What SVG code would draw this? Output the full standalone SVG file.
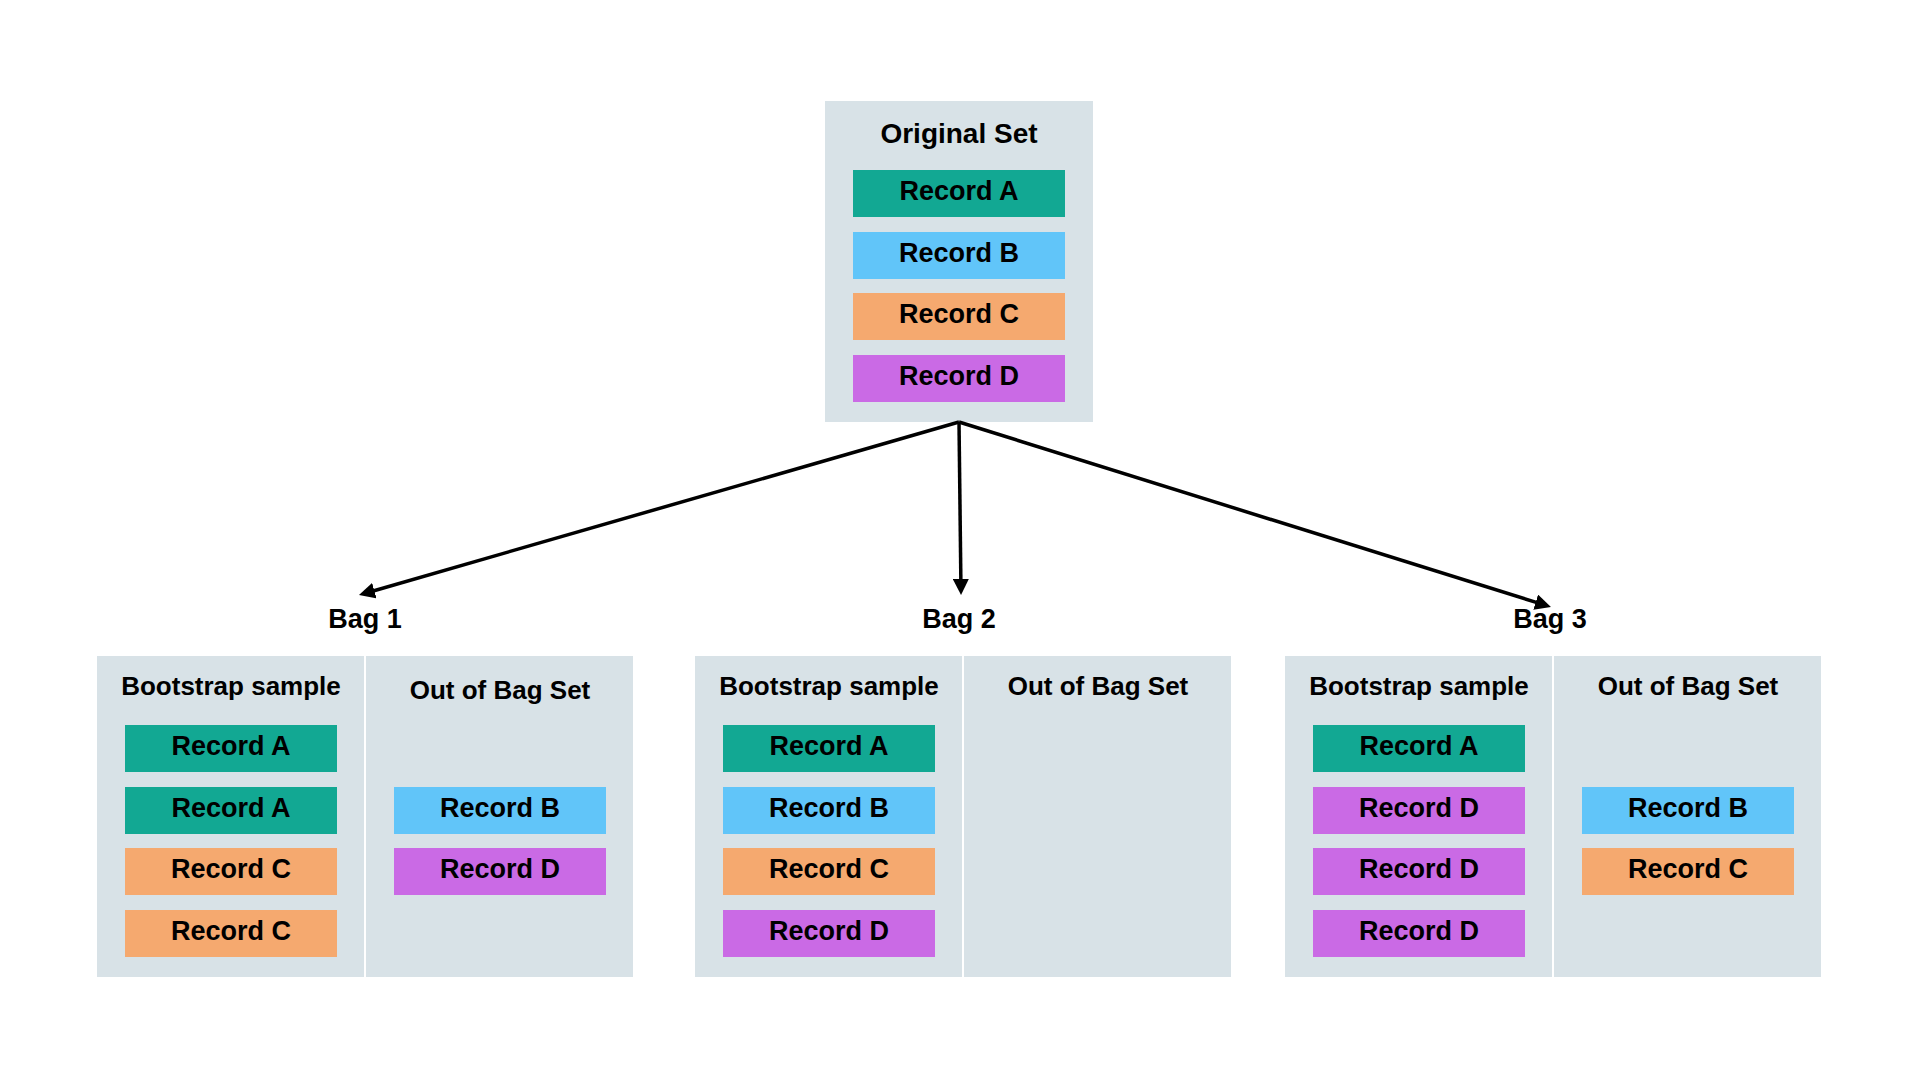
<svg xmlns="http://www.w3.org/2000/svg" width="1920" height="1080" viewBox="0 0 1920 1080">
  <style>
    text { font-family: "Liberation Sans", Arial, Helvetica, sans-serif; font-weight: bold; fill: #000; text-anchor: middle; }
    .panel { fill: #D8E2E7; }
    .title { font-size: 28px; }
    .coltitle { font-size: 26px; }
    .bag { font-size: 27px; }
    .rec { font-size: 27px; }
    .ra { fill: #12A893; }
    .rb { fill: #61C5F9; }
    .rc { fill: #F5A96F; }
    .rd { fill: #CA6AE5; }
    .conn { stroke: #000; stroke-width: 3.5; fill: none; }
  </style>
  <defs>
    <marker id="arrow" markerUnits="userSpaceOnUse" markerWidth="17" markerHeight="16" refX="4" refY="8" orient="auto">
      <path d="M0,0 L16,8 L0,16 z" fill="#000"/>
    </marker>
  </defs>
  <rect width="1920" height="1080" fill="#FFFFFF"/>

  <g id="original-set">
    <rect class="panel" x="825" y="101" width="268" height="321"/>
    <text class="title" x="959" y="143">Original Set</text>
    <rect class="ra" x="853" y="170" width="212" height="47"/>
    <text class="rec" x="959" y="200">Record A</text>
    <rect class="rb" x="853" y="232" width="212" height="47"/>
    <text class="rec" x="959" y="262">Record B</text>
    <rect class="rc" x="853" y="293" width="212" height="47"/>
    <text class="rec" x="959" y="323">Record C</text>
    <rect class="rd" x="853" y="355" width="212" height="47"/>
    <text class="rec" x="959" y="385">Record D</text>
  </g>

  <g id="connectors">
    <line class="conn" x1="959" y1="422" x2="370.5" y2="591.7" marker-end="url(#arrow)"/>
    <line class="conn" x1="959" y1="422" x2="960.9" y2="583" marker-end="url(#arrow)"/>
    <line class="conn" x1="959" y1="422" x2="1539.5" y2="603.4" marker-end="url(#arrow)"/>
  </g>

  <g id="bag1">
    <text class="bag" x="365" y="628">Bag 1</text>
    <rect class="panel" x="97" y="656" width="267" height="321"/>
    <rect class="panel" x="366" y="656" width="267" height="321"/>
    <text class="coltitle" x="231" y="695">Bootstrap sample</text>
    <text class="coltitle" x="500" y="699">Out of Bag Set</text>
    <rect class="ra" x="125" y="725" width="212" height="47"/>
    <text class="rec" x="231" y="755">Record A</text>
    <rect class="ra" x="125" y="787" width="212" height="47"/>
    <text class="rec" x="231" y="817">Record A</text>
    <rect class="rc" x="125" y="848" width="212" height="47"/>
    <text class="rec" x="231" y="878">Record C</text>
    <rect class="rc" x="125" y="910" width="212" height="47"/>
    <text class="rec" x="231" y="940">Record C</text>
    <rect class="rb" x="394" y="787" width="212" height="47"/>
    <text class="rec" x="500" y="817">Record B</text>
    <rect class="rd" x="394" y="848" width="212" height="47"/>
    <text class="rec" x="500" y="878">Record D</text>
  </g>

  <g id="bag2">
    <text class="bag" x="959" y="628">Bag 2</text>
    <rect class="panel" x="695" y="656" width="267" height="321"/>
    <rect class="panel" x="964" y="656" width="267" height="321"/>
    <text class="coltitle" x="829" y="695">Bootstrap sample</text>
    <text class="coltitle" x="1098" y="695">Out of Bag Set</text>
    <rect class="ra" x="723" y="725" width="212" height="47"/>
    <text class="rec" x="829" y="755">Record A</text>
    <rect class="rb" x="723" y="787" width="212" height="47"/>
    <text class="rec" x="829" y="817">Record B</text>
    <rect class="rc" x="723" y="848" width="212" height="47"/>
    <text class="rec" x="829" y="878">Record C</text>
    <rect class="rd" x="723" y="910" width="212" height="47"/>
    <text class="rec" x="829" y="940">Record D</text>
  </g>

  <g id="bag3">
    <text class="bag" x="1550" y="628">Bag 3</text>
    <rect class="panel" x="1285" y="656" width="267" height="321"/>
    <rect class="panel" x="1554" y="656" width="267" height="321"/>
    <text class="coltitle" x="1419" y="695">Bootstrap sample</text>
    <text class="coltitle" x="1688" y="695">Out of Bag Set</text>
    <rect class="ra" x="1313" y="725" width="212" height="47"/>
    <text class="rec" x="1419" y="755">Record A</text>
    <rect class="rd" x="1313" y="787" width="212" height="47"/>
    <text class="rec" x="1419" y="817">Record D</text>
    <rect class="rd" x="1313" y="848" width="212" height="47"/>
    <text class="rec" x="1419" y="878">Record D</text>
    <rect class="rd" x="1313" y="910" width="212" height="47"/>
    <text class="rec" x="1419" y="940">Record D</text>
    <rect class="rb" x="1582" y="787" width="212" height="47"/>
    <text class="rec" x="1688" y="817">Record B</text>
    <rect class="rc" x="1582" y="848" width="212" height="47"/>
    <text class="rec" x="1688" y="878">Record C</text>
  </g>
</svg>
